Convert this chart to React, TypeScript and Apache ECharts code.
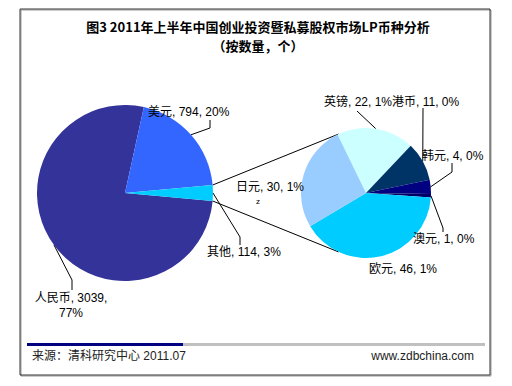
import React, { useEffect, useRef } from "react";
import * as echarts from "echarts";

// ---- data ----
const mainNames = ["人民币", "美元", "其他"];
const mainValues = [3039, 794, 114];
const subNames = ["英镑", "港币", "韩元", "澳元", "欧元", "日元"];
const subValues = [22, 11, 4, 1, 46, 30];
const titleLines = ["图3 2011年上半年中国创业投资暨私募股权市场LP币种分析", "（按数量，个）"];
const sourceText = "来源：清科研究中心 2011.07";
const siteText = "www.zdbchina.com";

// ---- styles / layout ----
const mainColors = ["#333399", "#3366FF", "#00CCFF"];
const subColors = ["#CCFFFF", "#003366", "#000080", "#000066", "#00CCFF", "#99CCFF"];
const FONT = "'Liberation Sans', Arial, 'Noto Sans CJK SC', sans-serif";
const MAIN_C = [125, 193];
const MAIN_R = 88;
const SUB_C = [366, 193];
const SUB_R = 65;
const SUB_START = 116;

type Place = { x: number; y: number; align: string; pts?: number[][] };
const mainPlace: Place[] = [
  { x: 71, y: 305, align: "center", pts: [[72, 280], [72, 290]] },
  { x: 148, y: 112, align: "left", pts: [[210, 128], [210, 120]] },
  { x: 207, y: 252, align: "left", pts: [[240, 237], [240, 245]] },
];
const subPlace: Place[] = [
  { x: 324, y: 102, align: "left", pts: [[357, 111], [357, 111]] },
  { x: 392, y: 102, align: "left", pts: [[423, 108], [423, 108]] },
  { x: 422, y: 156, align: "left", pts: [[452, 172], [452, 163]] },
  { x: 413, y: 239, align: "left", pts: [[443, 228], [443, 232]] },
  { x: 369, y: 269, align: "left" },
  { x: 236, y: 187, align: "left" },
];

export default function App() {
  const ref = useRef<HTMLDivElement>(null);
  useEffect(() => {
    document.body.style.margin = "0";
    const chart = echarts.init(ref.current!, undefined, { renderer: "svg" });
    const total = mainValues.reduce((a, b) => a + b, 0);
    const otherIdx = mainNames.indexOf("其他");
    const otherVal = mainValues[otherIdx];
    const half = (otherVal / total) * 180;
    const mainStart = 360 - half;
    const pct = (v: number) => Math.round((v / total) * 100);

    // connector lines from the "其他" slice to the breakout pie
    const rad = (d: number) => (d * Math.PI) / 180;
    const p1 = [MAIN_C[0] + MAIN_R * Math.cos(rad(half)), MAIN_C[1] - MAIN_R * Math.sin(rad(half))];
    const p2 = [MAIN_C[0] + MAIN_R * Math.cos(rad(-half)), MAIN_C[1] - MAIN_R * Math.sin(rad(-half))];
    const q1 = [SUB_C[0] + SUB_R * Math.cos(rad(115)), SUB_C[1] - SUB_R * Math.sin(rad(115))];
    const q2 = [SUB_C[0] + SUB_R * Math.cos(rad(-115)), SUB_C[1] - SUB_R * Math.sin(rad(-115))];

    const makeLayout = (places: Place[]) => (params: any) => {
      const p = places[params.dataIndex];
      const out: any = { x: p.x, y: p.y, align: p.align, verticalAlign: "middle" };
      if (p.pts && params.labelLinePoints) {
        out.labelLinePoints = [params.labelLinePoints[0], p.pts[0], p.pts[1]];
      }
      return out;
    };

    const labelBase = {
      show: true,
      position: "outside",
      color: "#000",
      fontSize: 12,
      fontFamily: FONT,
      lineHeight: 15,
    };

    chart.setOption({
      animation: false,
      backgroundColor: "#fff",
      graphic: [
        { type: "rect", shape: { x: 21, y: 10, width: 470, height: 366 }, style: { fill: "none", stroke: "#999", lineWidth: 1 } },
        { type: "rect", shape: { x: 20, y: 9, width: 470, height: 366 }, style: { fill: "none", stroke: "#333", lineWidth: 1 } },
        { type: "text", x: 258, y: 26, style: { text: titleLines[0], font: `bold 13px 'Noto Sans CJK SC', sans-serif`, fill: "#000", align: "center", verticalAlign: "middle" } },
        { type: "text", x: 258, y: 45, style: { text: titleLines[1], font: `bold 13px 'Noto Sans CJK SC', sans-serif`, fill: "#000", align: "center", verticalAlign: "middle" } },
        { type: "line", shape: { x1: p1[0], y1: p1[1], x2: q1[0], y2: q1[1] }, style: { stroke: "#000", lineWidth: 1 } },
        { type: "line", shape: { x1: p2[0], y1: p2[1], x2: q2[0], y2: q2[1] }, style: { stroke: "#000", lineWidth: 1 } },
        { type: "text", x: 258, y: 201, style: { text: "z", font: `8px ${FONT}`, fill: "#000", align: "center", verticalAlign: "middle" } },
        { type: "rect", shape: { x: 183, y: 343, width: 302, height: 3 }, style: { fill: "#C0C0C0" } },
        { type: "rect", shape: { x: 27, y: 343, width: 156, height: 3 }, style: { fill: "#000080" } },
        { type: "text", x: 32, y: 356, style: { text: sourceText, font: `12px ${FONT}`, fill: "#222", align: "left", verticalAlign: "middle" } },
        { type: "text", x: 474, y: 356, style: { text: siteText, font: `12px ${FONT}`, fill: "#222", align: "right", verticalAlign: "middle" } },
      ],
      series: [
        {
          type: "pie",
          center: MAIN_C,
          radius: [0, MAIN_R],
          startAngle: mainStart,
          clockwise: true,
          avoidLabelOverlap: false,
          label: labelBase,
          labelLine: { show: true, lineStyle: { color: "#000", width: 1 } },
          labelLayout: makeLayout(mainPlace),
          emphasis: { disabled: true },
          data: mainNames.map((n, i) => ({
            name: n,
            value: mainValues[i],
            itemStyle: { color: mainColors[i] },
            label: {
              formatter: `${n}, ${mainValues[i]},${n === "人民币" ? "\n" : " "}${pct(mainValues[i])}%`,
            },
          })),
        },
        {
          type: "pie",
          center: SUB_C,
          radius: [0, SUB_R],
          startAngle: SUB_START,
          clockwise: true,
          avoidLabelOverlap: false,
          label: labelBase,
          labelLine: { show: true, lineStyle: { color: "#000", width: 1 } },
          labelLayout: makeLayout(subPlace),
          emphasis: { disabled: true },
          data: subNames.map((n, i) => ({
            name: n,
            value: subValues[i],
            itemStyle: { color: subColors[i] },
            label: { formatter: `${n}, ${subValues[i]}, ${pct(subValues[i])}%` },
            labelLine: { show: !!subPlace[i].pts },
          })),
        },
      ],
    });
    return () => chart.dispose();
  }, []);
  return <div ref={ref} style={{ width: 512, height: 386 }} />;
}
